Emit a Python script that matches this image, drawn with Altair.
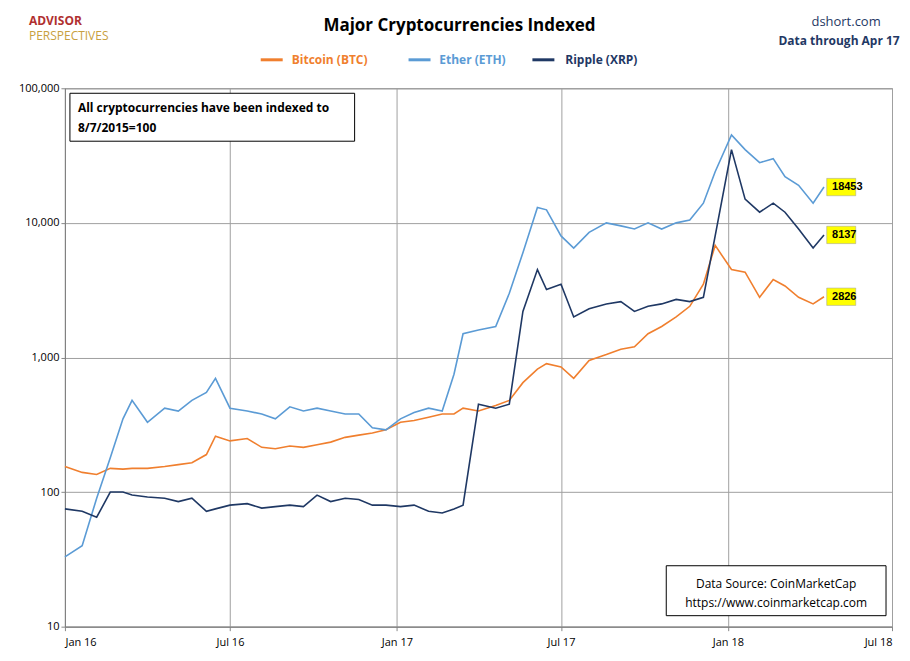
import altair as alt
import pandas as pd

dates = ["2016-01-01", "2016-01-20", "2016-02-05", "2016-02-20", "2016-03-05", "2016-03-15", "2016-04-01",
         "2016-04-20", "2016-05-05", "2016-05-20", "2016-06-05", "2016-06-15", "2016-07-01", "2016-07-20",
         "2016-08-05", "2016-08-20", "2016-09-05", "2016-09-20", "2016-10-05", "2016-10-20", "2016-11-05",
         "2016-11-20", "2016-12-05", "2016-12-20", "2017-01-05", "2017-01-20", "2017-02-05", "2017-02-20",
         "2017-03-05", "2017-03-15", "2017-04-01", "2017-04-20", "2017-05-05", "2017-05-20", "2017-06-05",
         "2017-06-15", "2017-07-01", "2017-07-15", "2017-08-01", "2017-08-20", "2017-09-05", "2017-09-20",
         "2017-10-05", "2017-10-20", "2017-11-05", "2017-11-20", "2017-12-05", "2017-12-18", "2018-01-05",
         "2018-01-20", "2018-02-05", "2018-02-20", "2018-03-05", "2018-03-20", "2018-04-05", "2018-04-17"]
btc = [155, 140, 135, 150, 148, 150, 150, 155, 160, 165, 190, 260, 240, 250, 215, 210, 220, 215, 225, 235,
       255, 265, 275, 290, 330, 340, 360, 380, 380, 420, 400, 440, 480, 650, 820, 900, 850, 700, 950, 1050,
       1150, 1200, 1500, 1700, 2000, 2400, 3500, 6800, 4500, 4300, 2800, 3800, 3400, 2800, 2500, 2826]
eth = [33, 40, 90, 180, 350, 480, 330, 420, 400, 480, 550, 700, 420, 400, 380, 350, 430, 400, 420, 400,
       380, 380, 300, 290, 350, 390, 420, 400, 750, 1500, 1600, 1700, 3000, 6000, 13000, 12500, 8000, 6500,
       8500, 10000, 9500, 9000, 10000, 9000, 10000, 10500, 14000, 24000, 45000, 35000, 28000, 30000, 22000,
       19000, 14000, 18453]
xrp = [75, 72, 65, 100, 100, 95, 92, 90, 85, 90, 72, 75, 80, 82, 76, 78, 80, 78, 95, 85, 90, 88, 80, 80,
       78, 80, 72, 70, 75, 80, 450, 420, 450, 2200, 4500, 3200, 3500, 2000, 2300, 2500, 2600, 2200, 2400,
       2500, 2700, 2600, 2800, 8000, 35000, 15000, 12000, 14000, 12000, 9000, 6500, 8137]

names = ["Bitcoin (BTC)", "Ether (ETH)", "Ripple (XRP)"]
colors = ["#f07f2e", "#5b9bd5", "#1f3864"]
last_vals = [2826, 18453, 8137]

rows = []
for n, s in zip(names, [btc, eth, xrp]):
    for d, v in zip(dates, s):
        rows.append({"date": d, "value": v, "series": n})
df = pd.DataFrame(rows)

tick_dates = ["2016-01-01", "2016-07-01", "2017-01-01", "2017-07-01", "2018-01-01", "2018-07-01"]
x = alt.X("date:T", title=None,
          scale=alt.Scale(domain=["2016-01-01", "2018-07-01"]),
          axis=alt.Axis(values=[pd.Timestamp(t).isoformat() for t in tick_dates], format="%b %y",
                        labelColor="black", labelFontSize=11, gridColor="#a0a0a0", tickSize=4,
                        domainColor="#808080", labelPadding=6))
y = alt.Y("value:Q", title=None,
          scale=alt.Scale(type="log", domain=[10, 100000]),
          axis=alt.Axis(values=[10, 100, 1000, 10000, 100000], format=",", labelColor="black",
                        labelFontSize=11, gridColor="#a0a0a0", domainColor="#808080", tickSize=4))

lines = alt.Chart(df).mark_line(strokeWidth=1.6).encode(
    x=x, y=y,
    color=alt.Color("series:N", scale=alt.Scale(domain=names, range=colors), legend=None),
)

lab = pd.DataFrame({"date": "2018-04-27", "d1": "2018-04-20", "d2": "2018-05-22",
                    "value": last_vals, "lo": [v / 1.16 for v in last_vals],
                    "hi": [v * 1.16 for v in last_vals], "txt": [str(v) for v in last_vals]})
boxes = alt.Chart(lab).mark_rect(color="#ffff00", stroke="#999999", strokeWidth=0.5).encode(
    x="d1:T", x2="d2:T", y="lo:Q", y2="hi:Q")
btxt = alt.Chart(lab).mark_text(align="left", fontWeight="bold", fontSize=11, dx=-1).encode(
    x="date:T", y="value:Q", text="txt:N")

def txt(t, xp, yp, **kw):
    return alt.Chart(pd.DataFrame({"t": [t]})).mark_text(**kw).encode(
        text="t:N", x=alt.value(xp), y=alt.value(yp))

def rect(x1, x2, y1, y2, **kw):
    return alt.Chart(pd.DataFrame({"a": [0]})).mark_rect(**kw).encode(
        x=alt.value(x1), x2=alt.value(x2), y=alt.value(y1), y2=alt.value(y2))

f = "Open Sans"
extras = [
    rect(5, 290, 5, 53, color="white", stroke="black", strokeWidth=1),
    txt("All cryptocurrencies have been indexed to", 13, 20, align="left", fontSize=12, fontWeight="bold", font=f),
    txt("8/7/2015=100", 13, 40, align="left", fontSize=12, fontWeight="bold", font=f),
    rect(602, 822, 478, 528, color="white", stroke="black", strokeWidth=1),
    txt("Data Source: CoinMarketCap", 712, 496, align="center", fontSize=12, font=f),
    txt("https://www.coinmarketcap.com", 712, 515, align="center", fontSize=12, font=f),
    txt("Major Cryptocurrencies  Indexed", 395, -62, align="center", fontSize=17, fontWeight="bold", font=f),
    txt("Bitcoin (BTC)", 265, -28, align="center", fontSize=12, fontWeight="bold", color=colors[0], font=f),
    txt("Ether (ETH)", 408, -28, align="center", fontSize=12, fontWeight="bold", color=colors[1], font=f),
    txt("Ripple (XRP)", 537, -28, align="center", fontSize=12, fontWeight="bold", color=colors[2], font=f),
    rect(196, 218, -30, -27, color=colors[0]),
    rect(344, 366, -30, -27, color=colors[1]),
    rect(468, 490, -30, -27, color=colors[2]),
    txt("dshort.com", 782, -66, align="center", fontSize=13, color="#1f3864", font=f),
    txt("Data through Apr 17", 775, -47, align="center", fontSize=12, fontWeight="bold", color="#1f3864", font=f),
    txt("ADVISOR", -36, -67, align="left", fontSize=12, fontWeight="bold", color="#b03030", font=f),
    txt("PERSPECTIVES", -36, -52, align="left", fontSize=12, color="#c8a040", font=f),
]

chart = alt.layer(lines, boxes, btxt, *extras).properties(
    width=828, height=539,
    autosize=alt.AutoSizeParams(type="none"),
    padding={"left": 57, "top": 80, "right": 10, "bottom": 30},
).configure_view(stroke="#808080").configure_axis(labelFont=f)

chart.save("out.html", embed_options={"renderer": "svg", "actions": False})
